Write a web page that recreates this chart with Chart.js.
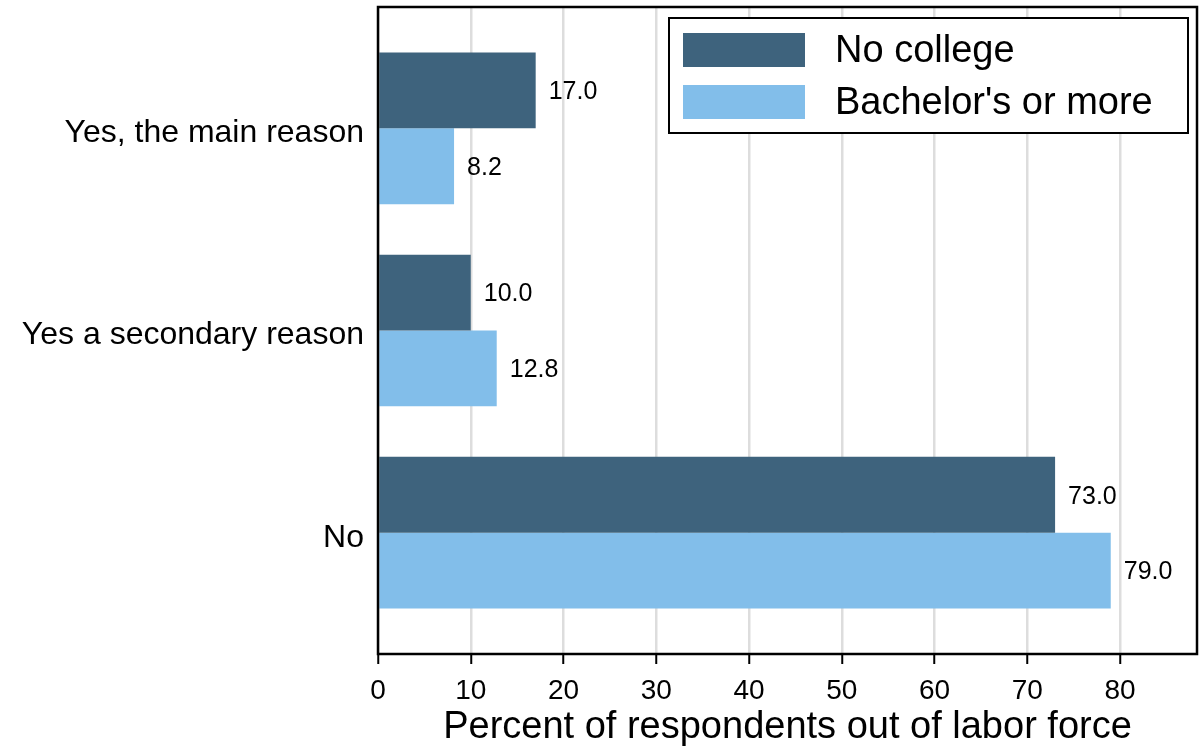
<!DOCTYPE html>
<html>
<head>
<meta charset="utf-8">
<script src="https://cdn.jsdelivr.net/npm/chart.js@4.4.0/dist/chart.umd.min.js"></script>
<style>
  html, body { margin: 0; padding: 0; background: #fff; }
  #wrap { width: 1203px; height: 750px; }
</style>
</head>
<body>
<div id="wrap"><canvas id="chart" width="1203" height="750"></canvas></div>
<script>
// Datos
const categories = ['Yes, the main reason', 'Yes a secondary reason', 'No'];
const noCollege = [17.0, 10.0, 73.0];
const bachelors = [8.2, 12.8, 79.0];
const xTicks = [0, 10, 20, 30, 40, 50, 60, 70, 80];

const FONT = "'Liberation Sans', Arial, Helvetica, sans-serif";

// Etiquetas de valores al final de cada barra
const valueLabels = {
    id: 'valueLabels',
    afterDatasetsDraw(chart) {
        const ctx = chart.ctx;
        ctx.save();
        ctx.font = '25px ' + FONT;
        ctx.fillStyle = '#000';
        ctx.textBaseline = 'middle';
        ctx.textAlign = 'left';
        chart.data.datasets.forEach((ds, i) => {
            chart.getDatasetMeta(i).data.forEach((bar, j) => {
                ctx.fillText(ds.data[j].x.toFixed(1), bar.x + 13, bar.y + 2);
            });
        });
        ctx.restore();
    }
};

// Marco y leyenda con borde
const frameAndLegend = {
    id: 'frameAndLegend',
    afterDraw(chart) {
        const ctx = chart.ctx;
        const a = chart.chartArea;
        ctx.save();
        ctx.strokeStyle = '#000';
        ctx.lineWidth = 2.5;
        ctx.strokeRect(a.left, a.top, a.right - a.left, a.bottom - a.top);

        // leyenda
        const boxW = 519, boxH = 115;
        const bx = a.right - 9 - boxW, by = a.top + 11;
        ctx.fillStyle = '#fff';
        ctx.fillRect(bx, by, boxW, boxH);
        ctx.lineWidth = 2;
        ctx.strokeRect(bx, by, boxW, boxH);
        ctx.font = '38px ' + FONT;
        ctx.textBaseline = 'middle';
        ctx.textAlign = 'left';
        chart.data.datasets.forEach((ds, i) => {
            const sy = by + 15 + i * 52;
            ctx.fillStyle = ds.backgroundColor;
            ctx.fillRect(bx + 14, sy, 122, 34);
            ctx.fillStyle = '#000';
            ctx.fillText(ds.label, bx + 166, sy + 19);
        });
        ctx.restore();
    }
};

new Chart(document.getElementById('chart').getContext('2d'), {
    type: 'bar',
    data: {
        datasets: [{
            label: 'No college',
            data: noCollege.map((v, i) => ({ x: v, y: i })),
            backgroundColor: '#3E637D',
        }, {
            label: "Bachelor's or more",
            data: bachelors.map((v, i) => ({ x: v, y: i })),
            backgroundColor: '#82BEEA',
        }],
    },
    options: {
        responsive: false,
        animation: false,
        indexAxis: 'y',
        categoryPercentage: 0.75,
        barPercentage: 1.0,
        layout: { padding: { top: 7, right: 6, left: 0, bottom: 0 } },
        plugins: {
            legend: { display: false },
            tooltip: { enabled: false },
        },
        scales: {
            x: {
                type: 'linear',
                min: 0,
                max: 88.3,
                afterBuildTicks: axis => { axis.ticks = xTicks.map(v => ({ value: v })); },
                ticks: {
                    font: { size: 28, family: FONT },
                    color: '#000',
                    padding: 10,
                },
                grid: {
                    color: '#dddddd',
                    lineWidth: 2.5,
                    drawTicks: true,
                    tickColor: '#000',
                    tickLength: 10,
                    tickWidth: 2,
                },
                border: { display: false },
                title: {
                    display: true,
                    text: 'Percent of respondents out of labor force',
                    font: { size: 38, family: FONT },
                    color: '#000',
                    padding: { top: 0, bottom: 0 },
                },
                afterFit: axis => { axis.height = 96; },
            },
            y: {
                type: 'linear',
                reverse: true,
                offset: false,
                min: -0.6,
                max: 2.6,
                afterBuildTicks: axis => { axis.ticks = categories.map((c, i) => ({ value: i })); },
                ticks: {
                    font: { size: 32, family: FONT },
                    color: '#000',
                    padding: 14,
                    labelOffset: 5,
                    autoSkip: false,
                    callback: v => categories[v] ?? '',
                },
                grid: { display: false, drawTicks: false, offset: false },
                border: { display: false },
                afterFit: axis => {
                    axis.width = 378;
                    axis.paddingTop = 0;
                    axis.paddingBottom = 0;
                },
            },
        },
    },
    plugins: [valueLabels, frameAndLegend],
});
</script>
</body>
</html>
